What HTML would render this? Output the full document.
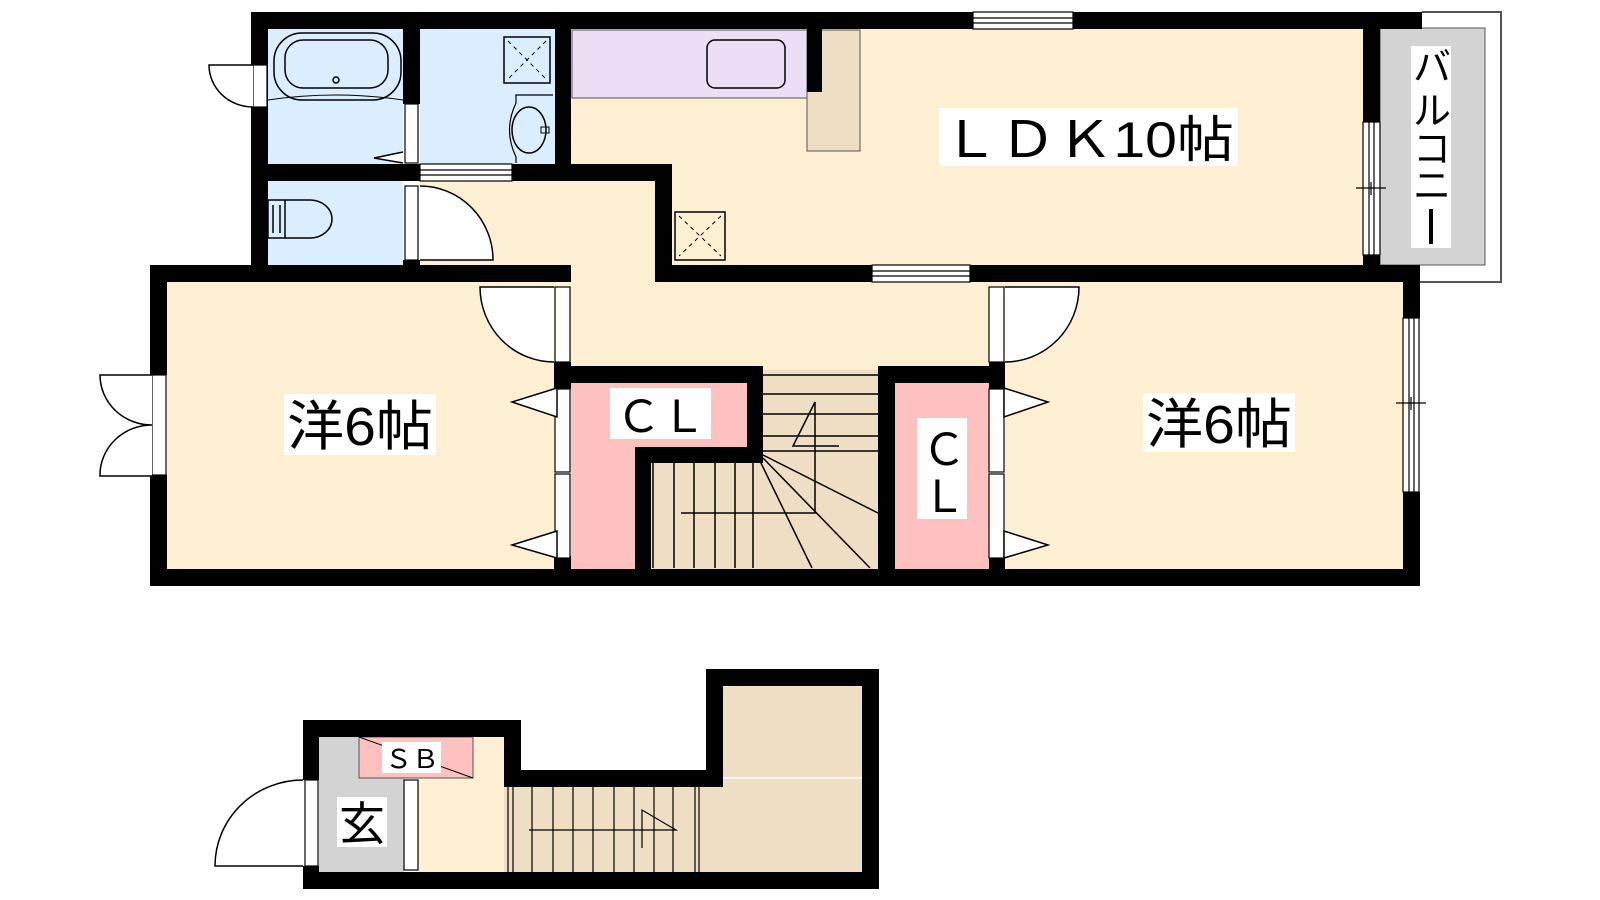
<!DOCTYPE html>
<html><head><meta charset="utf-8"><style>
html,body{margin:0;padding:0;background:#fff;width:1600px;height:900px;overflow:hidden}
svg{display:block}
text{font-family:"Liberation Sans","Noto Sans CJK JP",sans-serif;fill:#000}
</style></head><body>
<svg width="1600" height="900" viewBox="0 0 1600 900" xmlns="http://www.w3.org/2000/svg">
<g stroke="none">
<rect x="268" y="29" width="135" height="135" fill="#dbeeff"/>
<rect x="420" y="29" width="135" height="135" fill="#dbeeff"/>
<rect x="268" y="181" width="135" height="84" fill="#dbeeff"/>
<rect x="571" y="29" width="792" height="236" fill="#fdf0d2"/>
<rect x="420" y="181" width="240" height="100" fill="#fdf0d2"/>
<rect x="560" y="270" width="445" height="100" fill="#fdf0d2"/>
<rect x="167" y="282" width="390" height="287" fill="#fdf0d2"/>
<rect x="1005" y="282" width="398" height="287" fill="#fdf0d2"/>
<rect x="572" y="30" width="235" height="68" fill="#ecdff5" stroke="#555" stroke-width="1"/>
<rect x="807" y="30" width="53" height="121" fill="#eedfc4" stroke="#555" stroke-width="1"/>
<rect x="1380" y="28" width="105" height="237" fill="#d3d3d3" stroke="#555" stroke-width="1"/>
<rect x="571" y="383" width="176" height="64" fill="#ffc0c0"/>
<rect x="571" y="383" width="64" height="186" fill="#ffc0c0"/>
<rect x="895" y="383" width="94" height="186" fill="#ffc0c0"/>
<rect x="763" y="370" width="115" height="199" fill="#eedfc4"/>
<rect x="651" y="463" width="227" height="106" fill="#eedfc4"/>
<rect x="319" y="737" width="85" height="135" fill="#d3d3d3"/>
<rect x="418" y="737" width="86" height="135" fill="#fdf0d2"/>
<rect x="504" y="787" width="358" height="85" fill="#eedfc4"/>
<rect x="723" y="686" width="139" height="101" fill="#eedfc4"/>
<rect x="359" y="737" width="114" height="41" fill="#ffc0c0" stroke="#555" stroke-width="1"/>
</g>
<path d="M1422 12 H1501 V282 H1420" fill="none" stroke="#555" stroke-width="2"/>
<g fill="#000">
<rect x="251" y="12" width="1171" height="17"/>
<rect x="251" y="12" width="17" height="270"/>
<rect x="403" y="29" width="17" height="75"/>
<rect x="251" y="164" width="169" height="17"/>
<rect x="512" y="164" width="160" height="17"/>
<rect x="555" y="29" width="16" height="135"/>
<rect x="807" y="29" width="15" height="63"/>
<rect x="655" y="164" width="17" height="118"/>
<rect x="655" y="265" width="217" height="17"/>
<rect x="970" y="265" width="450" height="17"/>
<rect x="1363" y="12" width="17" height="110"/>
<rect x="1363" y="255" width="17" height="20"/>
<rect x="403" y="260" width="17" height="10"/>
<rect x="150" y="265" width="421" height="17"/>
<rect x="150" y="265" width="17" height="110"/>
<rect x="150" y="475" width="17" height="111"/>
<rect x="150" y="569" width="1270" height="17"/>
<rect x="1403" y="265" width="17" height="53"/>
<rect x="1403" y="492" width="17" height="94"/>
<rect x="554" y="362" width="17" height="27"/>
<rect x="554" y="366" width="209" height="17"/>
<rect x="747" y="366" width="16" height="97"/>
<rect x="635" y="447" width="128" height="16"/>
<rect x="635" y="447" width="16" height="122"/>
<rect x="878" y="366" width="127" height="17"/>
<rect x="878" y="366" width="17" height="203"/>
<rect x="989" y="362" width="16" height="27"/>
<rect x="554" y="556" width="17" height="13"/>
<rect x="989" y="556" width="16" height="13"/>
<rect x="303" y="720" width="218" height="17"/>
<rect x="303" y="720" width="16" height="60"/>
<rect x="303" y="866" width="16" height="23"/>
<rect x="504" y="720" width="17" height="67"/>
<rect x="504" y="770" width="219" height="17"/>
<rect x="706" y="669" width="17" height="118"/>
<rect x="706" y="669" width="173" height="17"/>
<rect x="862" y="669" width="17" height="220"/>
<rect x="303" y="872" width="576" height="17"/>
</g>
<g fill="#fff" stroke="#000" stroke-width="1.2">
<rect x="973" y="12" width="100" height="17"/><line x1="973" y1="18" x2="1073" y2="18"/><line x1="973" y1="23" x2="1073" y2="23"/>
<rect x="872" y="265" width="98" height="17"/><line x1="872" y1="271" x2="970" y2="271"/><line x1="872" y1="276" x2="970" y2="276"/>
<rect x="420" y="164" width="92" height="17"/><line x1="420" y1="170" x2="512" y2="170"/><line x1="420" y1="175" x2="512" y2="175"/>
<rect x="1363" y="122" width="17" height="133"/><line x1="1369" y1="122" x2="1369" y2="255"/><line x1="1374" y1="122" x2="1374" y2="255"/>
<rect x="1403" y="318" width="16" height="174"/><line x1="1409" y1="318" x2="1409" y2="492"/><line x1="1414" y1="318" x2="1414" y2="492"/>
<rect x="405" y="104" width="13" height="59"/>
<rect x="405" y="186" width="13" height="74"/>
<rect x="253" y="65" width="14" height="42"/>
<rect x="152" y="375" width="14" height="100"/>
<rect x="555" y="287" width="15" height="75"/>
<rect x="555" y="389" width="15" height="83"/>
<rect x="555" y="474" width="15" height="84"/>
<rect x="989" y="287" width="15" height="75"/>
<rect x="989" y="389" width="15" height="83"/>
<rect x="989" y="474" width="15" height="84"/>
<rect x="305" y="780" width="13" height="86"/>
<rect x="404" y="780" width="14" height="90"/>
</g>
<g fill="none" stroke="#000" stroke-width="1.5">
<path d="M253 65 H209 A44 42 0 0 0 253 107" fill="#fff"/>
<path d="M420 260 H493 A73 74 0 0 0 420 186" fill="#fff"/>
<path d="M554 287 H480 A74 75 0 0 0 554 362" fill="#fff"/>
<path d="M1005 287 H1079 A74 75 0 0 1 1005 362" fill="#fff"/>
<path d="M152 375 H100 A52 50 0 0 0 152 425 A52 50 0 0 0 100 476 H152" fill="#fff"/>
<path d="M303 866 H215 A88 86 0 0 1 303 780" fill="#fff"/>
<path d="M557 388 L512 402 L557 417 Z" fill="#fff"/>
<path d="M557 531 L512 545 L557 558 Z" fill="#fff"/>
<path d="M1004 388 L1048 402 L1004 417 Z" fill="#fff"/>
<path d="M1004 531 L1048 545 L1004 558 Z" fill="#fff"/>
<path d="M403 152 L374 158 L403 163" fill="#fff"/>
<rect x="274" y="33" width="127" height="67" rx="28" fill="#dbeeff"/>
<rect x="285" y="40" width="103" height="48" rx="18"/>
<circle cx="336" cy="80" r="3"/>
<path d="M268 100 Q336 90 403 100" stroke-width="1"/>
<rect x="504" y="37" width="46" height="46"/>
<path d="M508 41 L546 79 M546 41 L508 79" stroke-dasharray="4 4" stroke-width="1"/>
<rect x="675" y="212" width="50" height="48"/>
<path d="M679 216 L721 256 M721 216 L679 256" stroke-dasharray="4 4" stroke-width="1"/>
<path d="M553 95 H516 V103 Q503 130 516 157 V163" stroke-width="1.2"/>
<ellipse cx="529" cy="130" rx="17" ry="23"/>
<rect x="541" y="127" width="8" height="6" stroke-width="1"/>
<rect x="707" y="40" width="78" height="48" rx="8"/>
<path d="M285 200 H310 A22 19 0 0 1 310 238 H285 Z M268 200 H285 V238 H268 Z M273 205 V233 M280 205 V233"/>
<g stroke-width="1.5">
<line x1="763" y1="375" x2="878" y2="375"/><line x1="763" y1="394" x2="878" y2="394"/>
<line x1="763" y1="414" x2="878" y2="414"/><line x1="763" y1="436" x2="878" y2="436"/>
<line x1="763" y1="451" x2="878" y2="451"/>
<line x1="653" y1="463" x2="653" y2="568"/><line x1="674" y1="463" x2="674" y2="568"/>
<line x1="694" y1="463" x2="694" y2="568"/><line x1="715" y1="463" x2="715" y2="568"/>
<line x1="735" y1="463" x2="735" y2="568"/><line x1="753" y1="463" x2="753" y2="568"/>
<line x1="760" y1="461" x2="812" y2="568"/><line x1="763" y1="458" x2="870" y2="568"/>
<line x1="763" y1="455" x2="878" y2="513"/>
<path d="M681 513 H815 V402 L793 446 H839"/>
</g>
<g stroke-width="1.2">
<line x1="508" y1="787" x2="508" y2="872"/><line x1="513" y1="787" x2="513" y2="872"/>
<line x1="532" y1="787" x2="532" y2="872"/><line x1="553" y1="787" x2="553" y2="872"/>
<line x1="573" y1="787" x2="573" y2="872"/><line x1="593" y1="787" x2="593" y2="872"/>
<line x1="614" y1="787" x2="614" y2="872"/><line x1="634" y1="787" x2="634" y2="872"/>
<line x1="654" y1="787" x2="654" y2="872"/><line x1="673" y1="787" x2="673" y2="872"/>
<line x1="695" y1="787" x2="695" y2="872"/><line x1="699" y1="787" x2="699" y2="872"/>
<path d="M529 830 H676 L642 810 V848"/>
<line x1="359" y1="737" x2="473" y2="778" stroke-width="1"/>
</g>
<line x1="723" y1="778" x2="862" y2="778" stroke="#fff" stroke-width="1.5"/>
<path d="M1356 188 H1386 M1371 182 V195 M1396 403 H1426 M1411 397 V410" stroke-width="1.2"/>
</g>
<g fill="#fff">
<rect x="939" y="108" width="299" height="58"/>
<rect x="1411" y="46" width="40" height="202"/>
<rect x="284" y="394" width="152" height="61"/>
<rect x="1143" y="393" width="152" height="59"/>
<rect x="610" y="388" width="101" height="51"/>
<rect x="917" y="418" width="50" height="101"/>
<rect x="382" y="742" width="59" height="31"/>
<rect x="337" y="797" width="50" height="50"/>
</g>
<text x="942" y="157" font-size="50" textLength="292" lengthAdjust="spacingAndGlyphs">ＬＤＫ10帖</text>
<text x="287" y="445" font-size="54" textLength="146" lengthAdjust="spacingAndGlyphs">洋6帖</text>
<text x="1146" y="443" font-size="54" textLength="146" lengthAdjust="spacingAndGlyphs">洋6帖</text>
<text x="616" y="432" font-size="44" textLength="90" lengthAdjust="spacingAndGlyphs">ＣＬ</text>
<text x="922" y="465" font-size="44">Ｃ</text>
<text x="922" y="512" font-size="44">Ｌ</text>
<text x="385" y="768" font-size="26" textLength="54" lengthAdjust="spacingAndGlyphs">ＳＢ</text>
<text x="339" y="840" font-size="46">玄</text>
<g font-size="38">
<text x="1413" y="80">バ</text>
<text x="1413" y="124">ル</text>
<text x="1413" y="162">コ</text>
<text x="1413" y="199">ニ</text>
</g>
<rect x="1429" y="209" width="4" height="35" fill="#000"/>
</svg>
</body></html>
